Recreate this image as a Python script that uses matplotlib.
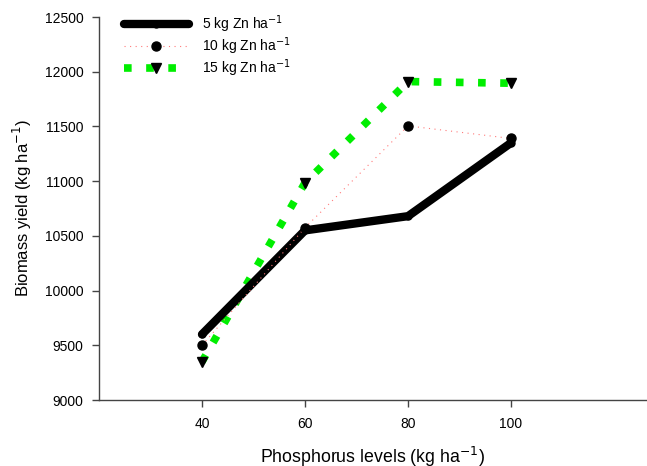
import matplotlib
matplotlib.use("Agg")
import matplotlib.pyplot as plt

plt.rcParams['font.family'] = ['Liberation Sans', 'DejaVu Sans']

# data
p_levels = [40, 60, 80, 100]
zn5 = [9600, 10550, 10680, 11350]
zn10 = [9500, 10575, 11505, 11390]
zn15 = [9350, 10985, 11910, 11895]

labels = ['5 kg Zn ha$^{-1}$', '10 kg Zn ha$^{-1}$', '15 kg Zn ha$^{-1}$']

fig = plt.figure(figsize=(6.47, 4.66), dpi=100)
ax = fig.add_axes([99 / 647, 66 / 466, 1 - 99 / 647, 383 / 466])

ax.plot(p_levels, zn5, color='black', lw=6, solid_capstyle='round',
        marker='o', ms=5, mfc='black', mec='black', label=labels[0], zorder=3)
ax.plot(p_levels, zn10, color='#ff7a7a', lw=0.8, linestyle=(0, (1, 4)),
        marker='o', ms=6.5, mfc='black', mec='black', label=labels[1], zorder=4)
ax.plot(p_levels, zn15, color='#00ee00', lw=5.5, linestyle=(0, (1.0, 1.9)),
        dash_capstyle='butt', marker='v', ms=7.5, mfc='black', mec='black',
        label=labels[2], zorder=2)

ax.set_xlim(20, 126.4)
ax.set_ylim(9000, 12500)
ax.set_xticks(p_levels)
ax.set_yticks(range(9000, 12501, 500))

for s in ['top', 'right']:
    ax.spines[s].set_visible(False)
for s in ['left', 'bottom']:
    ax.spines[s].set_color('#444444')
    ax.spines[s].set_linewidth(1.0)
ax.tick_params(direction='out', length=5, width=1, color='#444444',
               labelsize=10, pad=6)
ax.tick_params(axis='x', pad=7)

ax.set_xlabel('Phosphorus levels (kg ha$^{-1}$)', fontsize=12.8, labelpad=10)
ax.set_ylabel('Biomass yield (kg ha$^{-1}$)', fontsize=12, labelpad=8)

leg = ax.legend(loc='upper left', bbox_to_anchor=(0.035, 1.025), frameon=False,
                fontsize=10, handlelength=4.7, handletextpad=0.9,
                labelspacing=0.05, borderaxespad=0)

fig.savefig('out.png', dpi=100)
